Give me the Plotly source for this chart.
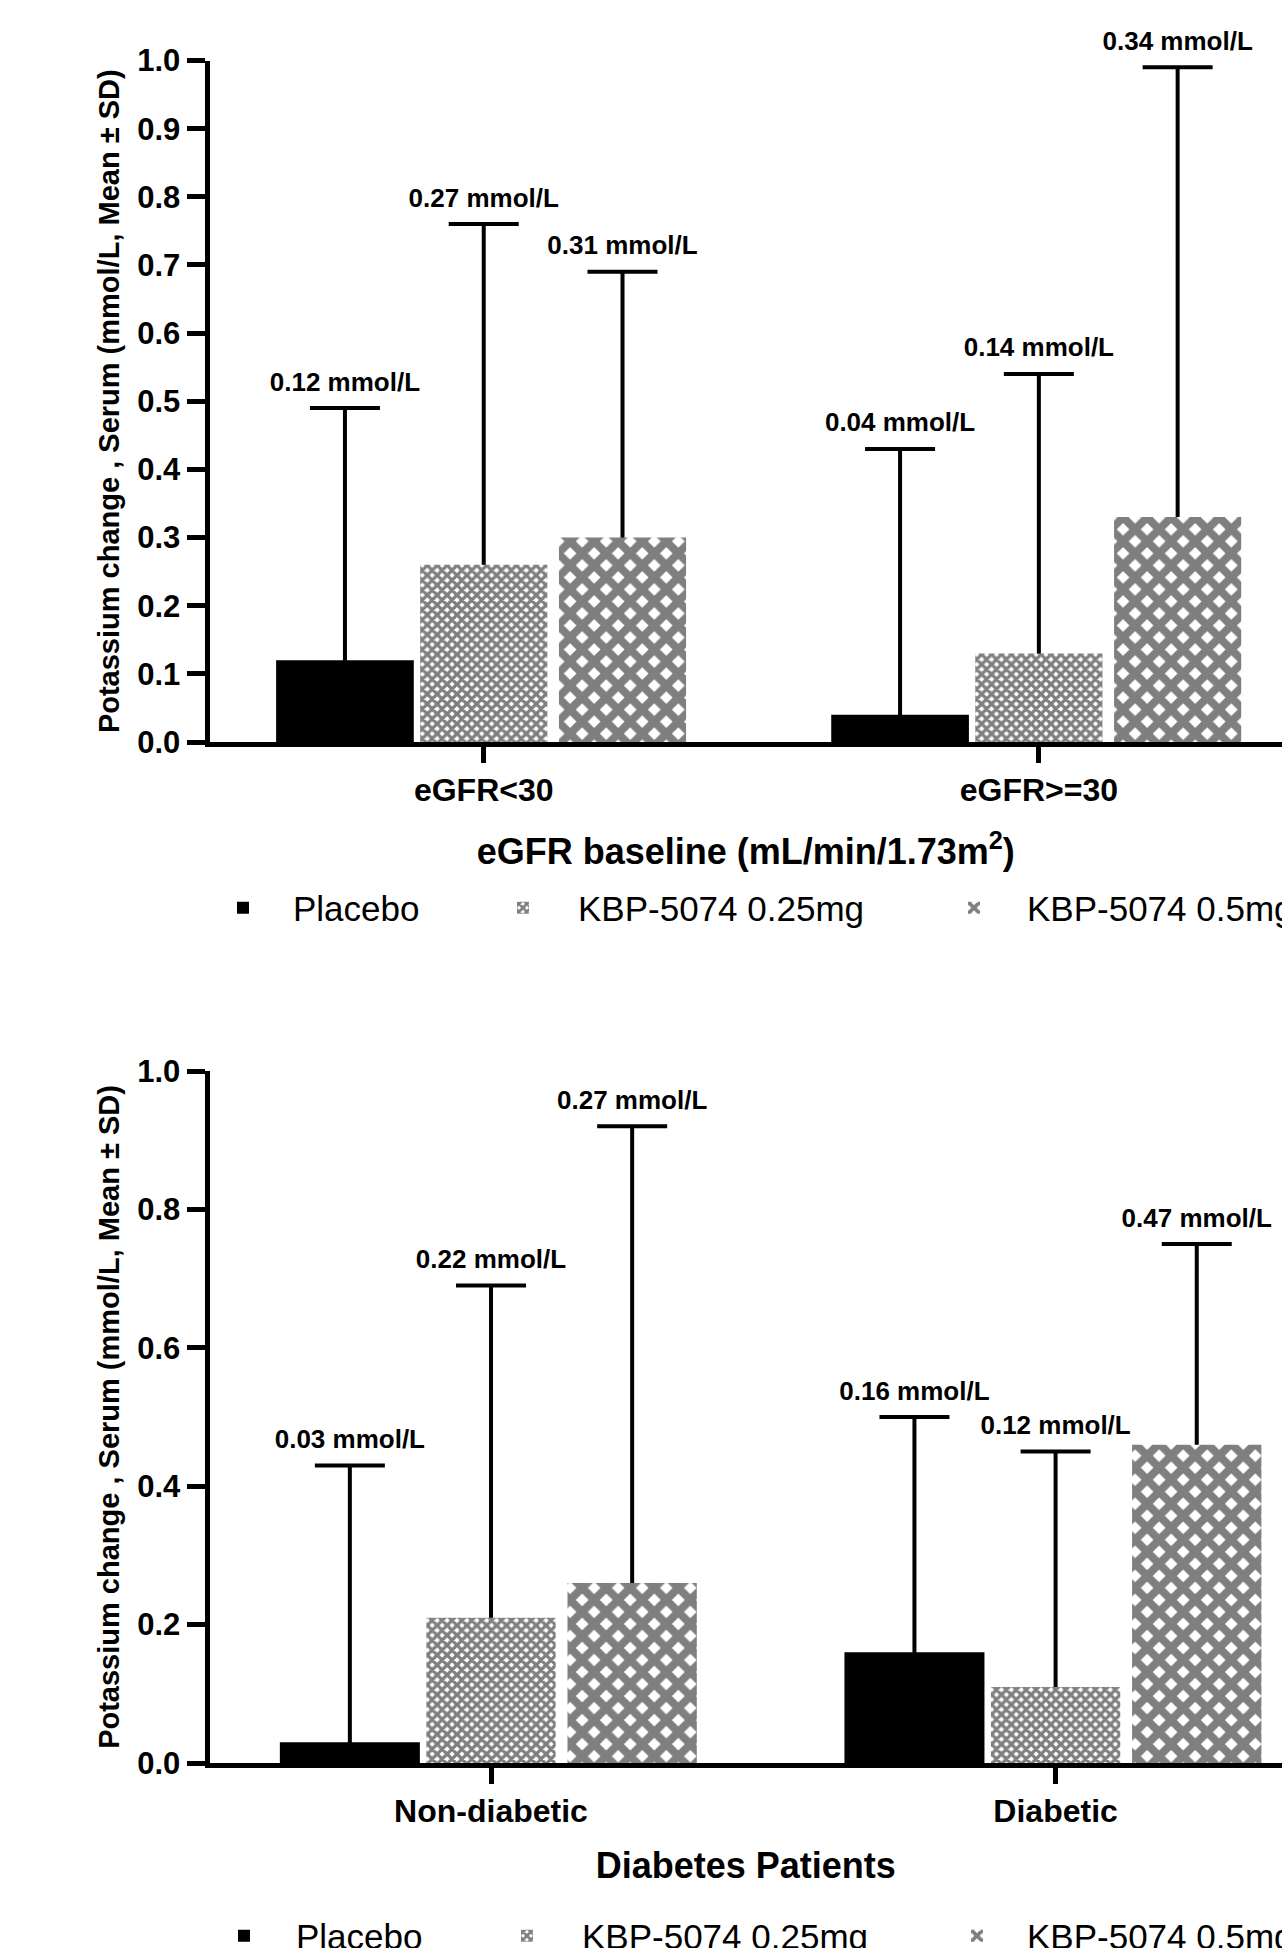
import plotly.graph_objects as go

# ---------------- data ----------------
series_names = ["Placebo", "KBP-5074 0.25mg", "KBP-5074 0.5mg"]

egfr_categories = ["eGFR<30", "eGFR>=30"]
egfr_placebo_mean = [0.12, 0.04]
egfr_placebo_sd = [0.37, 0.39]
egfr_placebo_label = ["0.12 mmol/L", "0.04 mmol/L"]
egfr_low_mean = [0.26, 0.13]
egfr_low_sd = [0.50, 0.41]
egfr_low_label = ["0.27 mmol/L", "0.14 mmol/L"]
egfr_high_mean = [0.30, 0.33]
egfr_high_sd = [0.39, 0.66]
egfr_high_label = ["0.31 mmol/L", "0.34 mmol/L"]

diab_categories = ["Non-diabetic", "Diabetic"]
diab_placebo_mean = [0.03, 0.16]
diab_placebo_sd = [0.40, 0.34]
diab_placebo_label = ["0.03 mmol/L", "0.16 mmol/L"]
diab_low_mean = [0.21, 0.11]
diab_low_sd = [0.48, 0.34]
diab_low_label = ["0.22 mmol/L", "0.12 mmol/L"]
diab_high_mean = [0.26, 0.46]
diab_high_sd = [0.66, 0.29]
diab_high_label = ["0.27 mmol/L", "0.47 mmol/L"]

egfr_yticks = [0.0, 0.1, 0.2, 0.3, 0.4, 0.5, 0.6, 0.7, 0.8, 0.9, 1.0]
diab_yticks = [0.0, 0.2, 0.4, 0.6, 0.8, 1.0]

# ---------------- style ----------------
W, H = 1282, 1948
FONT = "Liberation Sans, Arial, Helvetica, sans-serif"

bar_styles = [
    dict(color="black", line=dict(color="black", width=0)),
    dict(color="black", line=dict(width=0),
         pattern=dict(shape="x", size=7, solidity=0.72, fgcolor="black", bgcolor="white")),
    dict(color="black", line=dict(width=0),
         pattern=dict(shape="x", size=17, solidity=0.72, fgcolor="black", bgcolor="white")),
]
bar_widths = [0.248, None, None]

fig = go.Figure()


def add_panel(cats, means, sds, labels, xa, ya, legends):
    # error bars (drawn first, so that the bars cover their lower part)
    for i in range(3):
        fig.add_trace(go.Bar(
            x=cats, y=means[i], xaxis=xa, yaxis=ya, offsetgroup=str(i),
            marker=dict(color="rgba(0,0,0,0)", line=dict(width=0)),
            error_y=dict(type="data", symmetric=False, array=sds[i], arrayminus=means[i],
                         color="black", thickness=4, width=35),
            showlegend=False, hoverinfo="skip",
        ))
    for i in range(3):
        kw = {}
        if bar_widths[i] is not None:
            kw["width"] = bar_widths[i]
        fig.add_trace(go.Bar(
            x=cats, y=means[i], xaxis=xa, yaxis=ya, offsetgroup=str(i),
            name=series_names[i], marker=bar_styles[i], legend=legends[i],
            showlegend=True, **kw,
        ))
    for i in range(3):
        tops = [m + s for m, s in zip(means[i], sds[i])]
        fig.add_trace(go.Scatter(
            x=cats, y=tops, xaxis=xa, yaxis=ya, offsetgroup=str(i),
            mode="markers+text", text=labels[i], textposition="top center",
            marker=dict(size=16, opacity=0, color="black"),
            textfont=dict(family=FONT, size=26, color="black", weight="bold"),
            cliponaxis=False, showlegend=False, hoverinfo="skip",
        ))


add_panel(egfr_categories,
          [egfr_placebo_mean, egfr_low_mean, egfr_high_mean],
          [egfr_placebo_sd, egfr_low_sd, egfr_high_sd],
          [egfr_placebo_label, egfr_low_label, egfr_high_label],
          "x", "y", ["legend", "legend2", "legend3"])
add_panel(diab_categories,
          [diab_placebo_mean, diab_low_mean, diab_high_mean],
          [diab_placebo_sd, diab_low_sd, diab_high_sd],
          [diab_placebo_label, diab_low_label, diab_high_label],
          "x2", "y2", ["legend4", "legend5", "legend6"])

ytitle = "Potassium change , Serum (mmol/L, Mean ± SD)"


def xaxis_cfg(rng, title, anchor, standoff):
    return dict(
        domain=[209.5 / W, 1], range=rng, type="category", anchor=anchor,
        showline=True, linewidth=5, linecolor="black", mirror=False,
        ticks="outside", ticklen=16, tickwidth=5, tickcolor="black",
        tickfont=dict(family=FONT, size=32, color="black", weight="bold"),
        title=dict(text=title, standoff=standoff,
                   font=dict(family=FONT, size=36, color="black", weight="bold")),
        showgrid=False, zeroline=False, automargin=False, fixedrange=True,
    )


def yaxis_cfg(dom, tickvals, anchor):
    return dict(
        domain=dom, range=[0, 1], anchor=anchor,
        tickmode="array", tickvals=tickvals, tickformat=".1f",
        showline=True, linewidth=5, linecolor="black",
        ticks="outside", ticklen=18, tickwidth=5, tickcolor="black",
        tickfont=dict(family=FONT, size=31, color="black", weight="bold"),
        title=dict(text=ytitle, standoff=11,
                   font=dict(family=FONT, size=29, color="black", weight="bold")),
        showgrid=False, zeroline=False, automargin=False, fixedrange=True,
    )


def legend_cfg(sym_px, text_px, ypx):
    # symbol centre sits at left + 5 + itemwidth/2, text starts at left + itemwidth + 10
    iw = 2 * (text_px - sym_px - 5)
    left = sym_px - 5 - iw / 2
    return dict(
        x=left / W, y=1 - ypx / H, xanchor="left", yanchor="middle",
        orientation="h", bgcolor="rgba(0,0,0,0)", borderwidth=0, itemwidth=iw,
        font=dict(family=FONT, size=35, color="black"),
    )


top_dom = [(H - 742) / H, (H - 60.5) / H]
bot_dom = [(H - 1763) / H, (H - 1071) / H]

fig.update_layout(
    width=W, height=H,
    paper_bgcolor="white", plot_bgcolor="white",
    margin=dict(l=0, r=0, t=0, b=0, autoexpand=False),
    barmode="group", bargap=0.25, bargroupgap=0.084,
    scattermode="group", scattergap=0.25,
    font=dict(family=FONT, color="black"),
    xaxis=xaxis_cfg([-0.494, 1.438], "eGFR baseline (mL/min/1.73m<sup>2</sup>)", "y", 33),
    yaxis=yaxis_cfg(top_dom, egfr_yticks, "x"),
    xaxis2=xaxis_cfg([-0.4986, 1.401], "Diabetes Patients", "y2", 26),
    yaxis2=yaxis_cfg(bot_dom, diab_yticks, "x2"),
    legend=legend_cfg(243, 293, 908),
    legend2=legend_cfg(523, 578, 908),
    legend3=legend_cfg(974, 1027, 908),
    legend4=legend_cfg(244, 296, 1936),
    legend5=legend_cfg(527, 582, 1936),
    legend6=legend_cfg(977, 1027, 1936),
    showlegend=True,
)

fig.write_html("out.html", config={"displayModeBar": False},
               post_script="document.body.style.margin='0px';")
